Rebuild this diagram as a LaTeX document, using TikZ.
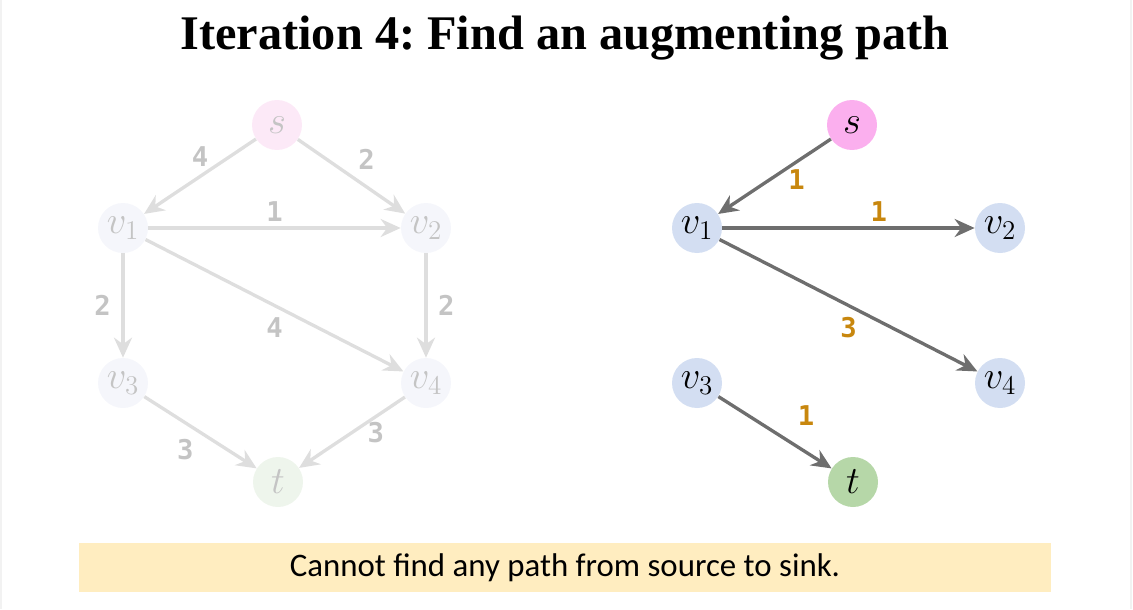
\documentclass[tikz,border=0pt]{standalone}
\usepackage{amsmath}
\usepackage{xcolor}
\usepackage{fix-cm}
\usepackage{fontspec}
\usetikzlibrary{arrows.meta}
\newfontfamily\titlefont{Liberation Serif}
\newfontfamily\boxfont{Carlito}
\newfontfamily\capfont{DejaVu Sans Mono}
\definecolor{fadeS}{HTML}{FCE9F7}
\definecolor{fadeV}{HTML}{F5F6FB}
\definecolor{fadeT}{HTML}{EEF5EC}
\definecolor{fadeEdge}{HTML}{DEDEDE}
\definecolor{fadeText}{HTML}{C4C4C4}
\definecolor{colS}{HTML}{FBAFEE}
\definecolor{colV}{HTML}{D3DEF2}
\definecolor{colT}{HTML}{B6D7A8}
\definecolor{colEdge}{HTML}{6E6E6E}
\definecolor{colCap}{HTML}{C8870E}
\definecolor{noteFill}{HTML}{FFEDC0}
\frenchspacing

\begin{document}
\begin{tikzpicture}[
x=0.02cm, y=-0.02cm,
MyNodes/.style={circle,minimum size=1cm,inner sep=0pt,font=\fontsize{22}{26}\selectfont},
FadedNodes/.style={MyNodes,text=fadeText},
FadedEdges/.style={draw=fadeEdge,line width=1.9pt,-{Stealth[length=4mm,width=3.6mm,inset=1.3mm]}},
MyEdges/.style={draw=colEdge,line width=1.9pt,-{Stealth[length=4mm,width=3.6mm,inset=1.3mm]}},
FadedCaps/.style={font=\capfont\bfseries\fontsize{15.5}{17}\selectfont,text=fadeText,inner sep=2pt},
MyCaps/.style={font=\capfont\bfseries\fontsize{15.5}{17}\selectfont,text=colCap,inner sep=2pt}
]
\useasboundingbox (0,0) rectangle (1133,609);
\draw[gray!10,line width=0.6pt] (1,0) -- (1,609);
\draw[gray!10,line width=0.6pt] (1131,0) -- (1131,609);

\node[font=\titlefont\bfseries\fontsize{27.5}{31}\selectfont] (title) at (565,38) {Iteration 4: Find an augmenting path};

% left: the original network, faded
\node[FadedNodes,fill=fadeS] (s) at (277,125) {$s$};
\node[FadedNodes,fill=fadeV] (v1) at (123,228) {$v_1$};
\node[FadedNodes,fill=fadeV] (v2) at (426,228) {$v_2$};
\node[FadedNodes,fill=fadeV] (v3) at (123,383) {$v_3$};
\node[FadedNodes,fill=fadeV] (v4) at (426,383) {$v_4$};
\node[FadedNodes,fill=fadeT] (t) at (278,482) {$t$};

\draw[FadedEdges] (s)--(v1) node[FadedCaps,midway,above=3pt]{4};
\draw[FadedEdges] (s)--(v2) node[FadedCaps,midway,above right=1pt]{2};
\draw[FadedEdges] (v1)--(v2) node[FadedCaps,midway,above=1pt]{1};
\draw[FadedEdges] (v1)--(v3) node[FadedCaps,midway,left=4pt]{2};
\draw[FadedEdges] (v1)--(v4) node[FadedCaps,midway,below=4pt]{4};
\draw[FadedEdges] (v2)--(v4) node[FadedCaps,midway,right=4pt]{2};
\draw[FadedEdges] (v3)--(t) node[FadedCaps,midway,below left=1pt]{3};
\draw[FadedEdges] (v4)--(t) node[FadedCaps,midway,right=6pt]{3};

% right: the residual network
\node[MyNodes,fill=colS] (rs) at (852,125) {$s$};
\node[MyNodes,fill=colV] (rv1) at (697,228) {$v_1$};
\node[MyNodes,fill=colV] (rv2) at (1000,228) {$v_2$};
\node[MyNodes,fill=colV] (rv3) at (697,383) {$v_3$};
\node[MyNodes,fill=colV] (rv4) at (1000,383) {$v_4$};
\node[MyNodes,fill=colT] (rt) at (853,482) {$t$};

\draw[MyEdges] (rs)--(rv1) node[MyCaps,midway,right=5pt,yshift=-2pt]{1};
\draw[MyEdges] (rv1)--(rv2) node[MyCaps,pos=0.62,above=1pt]{1};
\draw[MyEdges] (rv1)--(rv4) node[MyCaps,midway,below=4pt]{3};
\draw[MyEdges] (rv3)--(rt) node[MyCaps,midway,above right=1pt,xshift=9pt]{1};

\node[fill=noteFill,minimum width=972*0.02cm,minimum height=49*0.02cm,font=\boxfont\fontsize{18.7}{21}\selectfont] (note) at (565,567.5) {Cannot find any path from source to sink.};

\end{tikzpicture}
\end{document}
